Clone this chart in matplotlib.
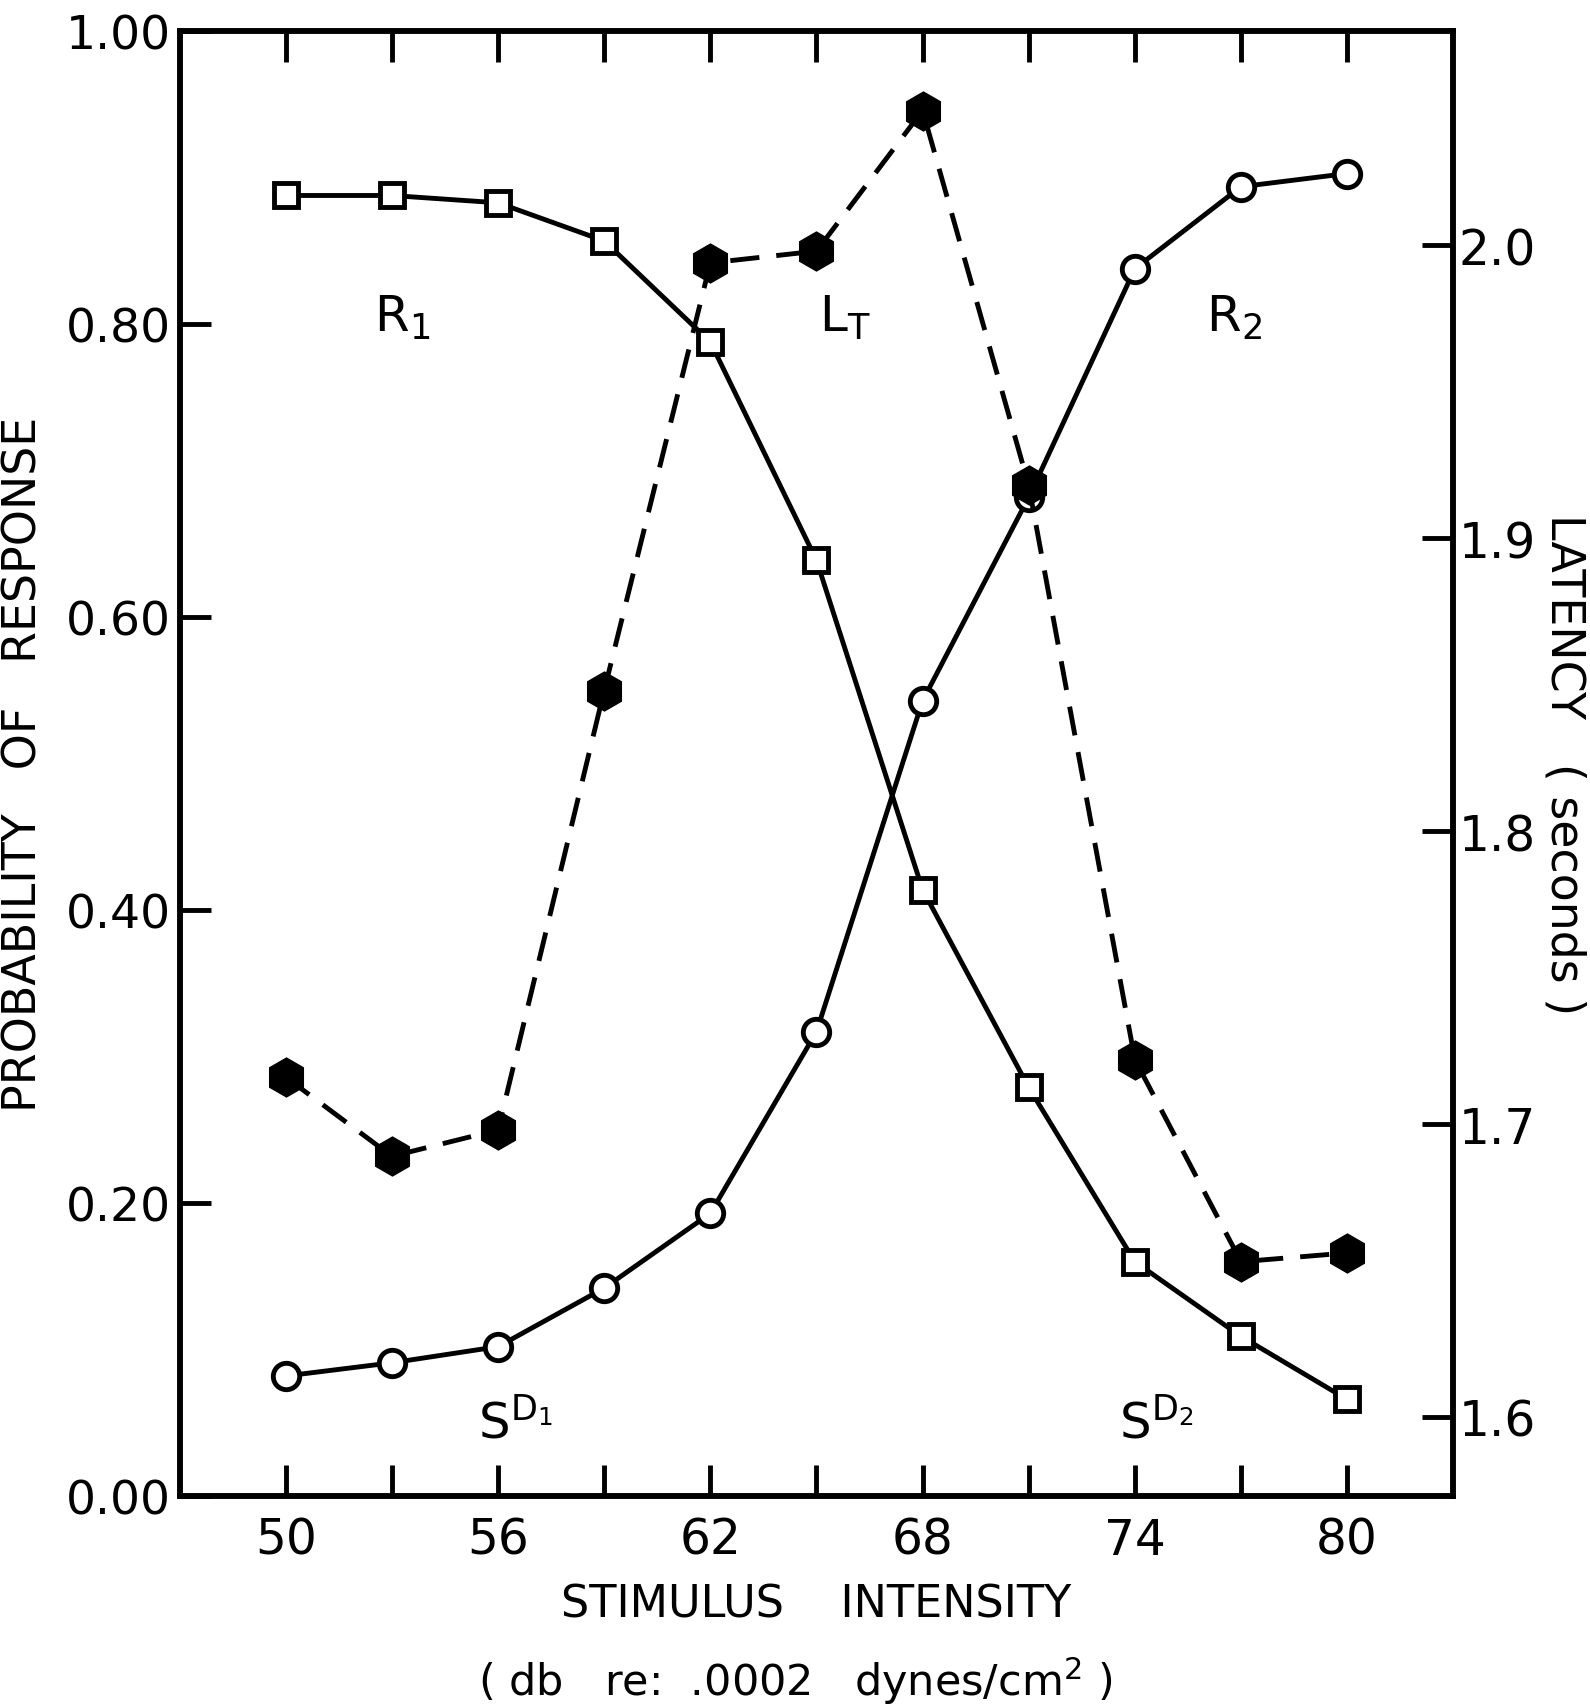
import matplotlib
matplotlib.use("Agg")
import matplotlib.pyplot as plt

# stimulus intensity (db)
intensity = [50, 53, 56, 59, 62, 65, 68, 71, 74, 77, 80]

# probability of R1 (squares) and R2 (circles)
prob_r1 = [0.888, 0.888, 0.883, 0.857, 0.788, 0.639, 0.414, 0.279, 0.160, 0.109, 0.066]
prob_r2 = [0.082, 0.091, 0.102, 0.142, 0.193, 0.317, 0.543, 0.682, 0.838, 0.894, 0.903]

# total latency in seconds (filled hexagons, dashed)
latency = [1.716, 1.689, 1.698, 1.848, 1.994, 1.998, 2.046, 1.918, 1.722, 1.653, 1.656]

left_ticks = [0.0, 0.2, 0.4, 0.6, 0.8, 1.0]
left_labels = ["0.00", "0.20", "0.40", "0.60", "0.80", "1.00"]
right_ticks = [1.6, 1.7, 1.8, 1.9, 2.0]
right_labels = ["1.6", "1.7", "1.8", "1.9", "2.0"]

plt.rcParams["font.family"] = ["DejaVu Sans"]

fig = plt.figure(figsize=(15.9, 17.08), dpi=100)
ax = fig.add_axes([0.113, 0.1235, 0.801, 0.8575])
ax2 = ax.twinx()

lw = 3.5
ax.plot(intensity, prob_r1, color="black", lw=lw, marker="s", ms=17,
        mfc="white", mec="black", mew=3.5, zorder=3)
ax.plot(intensity, prob_r2, color="black", lw=lw, marker="o", ms=19,
        mfc="white", mec="black", mew=3.5, zorder=3)
ax2.plot(intensity, latency, color="black", lw=lw, ls=(0, (6, 3.5)),
         marker="h", ms=28, mfc="black", mec="black", zorder=3)

ax.set_xlim(47, 83)
ax.set_ylim(0, 1)
ax2.set_ylim(1.573, 2.073)

ax.set_xticks(intensity)
ax.set_xticklabels([str(v) if (v - 50) % 6 == 0 else "" for v in intensity])
ax.set_yticks(left_ticks)
ax.set_yticklabels(left_labels)
ax2.set_yticks(right_ticks)
ax2.set_yticklabels(right_labels)

ax.tick_params(axis="x", direction="in", length=22, width=3.5, labelsize=35,
               top=True, pad=14)
ax.tick_params(axis="y", direction="in", length=22, width=3.5, labelsize=34, pad=6)
ax2.tick_params(axis="y", direction="in", length=22, width=3.5, labelsize=35, pad=4)
for a in (ax, ax2):
    for s in a.spines.values():
        s.set_linewidth(4)

ax.set_ylabel("PROBABILITY   OF   RESPONSE", fontsize=33, labelpad=14)
ax2.set_ylabel("LATENCY   ( seconds )", fontsize=33, rotation=-90, labelpad=36)
ax.set_xlabel("STIMULUS    INTENSITY", fontsize=32, labelpad=14)
fig.text(0.5, 0.0155, "( db   re:  .0002   dynes/cm$^{2}$ )", fontsize=31,
         ha="center", va="center")

ax.text(53.3, 0.805, r"R$_{\mathregular{1}}$", fontsize=36, ha="center", va="center")
ax.text(65.8, 0.805, r"L$_{\mathregular{T}}$", fontsize=36, ha="center", va="center")
ax.text(76.8, 0.805, r"R$_{\mathregular{2}}$", fontsize=36, ha="center", va="center")
ax.text(56.5, 0.05, r"S$^{\mathregular{D_1}}$", fontsize=36, ha="center", va="center")
ax.text(74.6, 0.05, r"S$^{\mathregular{D_2}}$", fontsize=36, ha="center", va="center")

fig.savefig("out.png", dpi=100)
